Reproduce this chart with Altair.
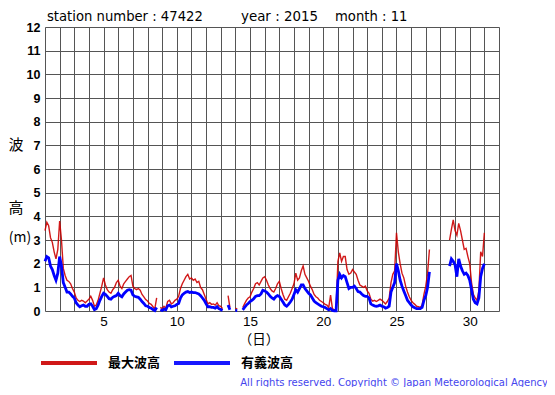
import altair as alt
import pandas as pd

# 3-hourly samples, day 1 00:00 .. day 31 00:00 (None = missing)
max_wave = [
    # day 1
    3.4, 3.75, 3.6, 3.1, 2.9, 2.5, 2.2, 2.6,
    # day 2
    3.8, 3.0, 1.8, 1.5, 1.3, 1.25, 1.15, 0.95,
    # day 3
    0.8, 0.55, 0.45, 0.4, 0.45, 0.42, 0.35, 0.42,
    # day 4
    0.5, 0.62, 0.45, 0.2, 0.25, 0.45, 0.75, 1.05,
    # day 5
    1.4, 1.1, 0.9, 0.8, 0.75, 0.9, 1.0, 1.2,
    # day 6
    1.3, 1.05, 0.95, 1.15, 1.25, 1.35, 1.45, 1.5,
    # day 7
    1.05, 0.95, 0.9, 0.95, 0.88, 0.7, 0.6, 0.48,
    # day 8
    0.42, 0.32, 0.28, 0.18, 0.1, 0.55, None, 0.15,
    # day 9
    0.1, 0.2, 0.12, 0.4, 0.45, 0.3, 0.35, 0.45,
    # day 10
    0.5, 0.62, 0.95, 1.15, 1.3, 1.45, 1.55, 1.35,
    # day 11
    1.4, 1.3, 1.35, 1.2, 1.25, 1.0, 0.9, 0.7,
    # day 12
    0.5, 0.3, 0.35, 0.28, 0.3, 0.25, 0.35, 0.22,
    # day 13
    0.2, 0.1, None, None, 0.65, 0.15, None, None,
    # day 14
    0.12, 0.08, None, None, 0.15, 0.3, 0.45, 0.55,
    # day 15
    0.6, 0.8, 0.95, 1.15, 1.2, 1.1, 1.25, 1.4,
    # day 16
    1.45, 1.3, 1.1, 0.95, 0.85, 0.8, 0.95, 1.15,
    # day 17
    1.25, 0.95, 0.7, 0.5, 0.45, 0.6, 0.75, 0.95,
    # day 18
    1.15, 1.6, 1.3, 1.4, 1.7, 1.9, 1.55, 1.4,
    # day 19
    1.25, 1.05, 0.9, 0.7, 0.6, 0.55, 0.45, 0.4,
    # day 20
    0.35, 0.28, 0.25, 0.15, 0.67, 0.1, 0.05, 0.05,
    # day 21
    2.1, 2.45, 2.1, 2.3, 2.3, 1.75, 1.55, 1.6,
    # day 22
    1.75, 1.65, 1.55, 1.3, 1.1, 1.05, 1.0, 1.05,
    # day 23
    0.85, 0.75, 0.5, 0.42, 0.45, 0.4, 0.45, 0.5,
    # day 24
    0.45, 0.38, 0.3, 0.4, 0.55, 1.2, 1.55, 1.7,
    # day 25
    3.3, 2.5, 2.0, 1.6, 1.4, 1.05, 0.8, 0.6,
    # day 26
    0.45, 0.35, 0.28, 0.2, 0.18, 0.15, 0.25, 0.7,
    # day 27
    1.05, 1.6, 2.6, None, None, None, None, None,
    # day 28
    None, None, None, None, None, 3.0, 3.45, 3.85,
    # day 29
    3.4, 3.2, 3.7, 3.4, 3.0, 2.6, 2.65, 2.3,
    # day 30
    2.0, 1.2, 0.7, 0.55, 0.45, 0.85, 2.5, 2.3,
    # day 31
    3.3,
]

sig_wave = [
    # day 1
    2.1, 2.3, 2.25, 1.9, 1.75, 1.5, 1.3, 1.6,
    # day 2
    2.3, 1.9, 1.2, 1.0, 0.8, 0.8, 0.72, 0.62,
    # day 3
    0.55, 0.35, 0.25, 0.18, 0.22, 0.25, 0.2, 0.2,
    # day 4
    0.28, 0.3, 0.2, 0.06, 0.1, 0.25, 0.45, 0.62,
    # day 5
    0.75, 0.7, 0.62, 0.52, 0.5, 0.58, 0.62, 0.65,
    # day 6
    0.75, 0.65, 0.6, 0.72, 0.8, 0.88, 0.9, 0.88,
    # day 7
    0.68, 0.62, 0.6, 0.58, 0.5, 0.4, 0.32, 0.22,
    # day 8
    0.2, 0.15, 0.12, 0.06, 0.02, 0.15, None, 0.05,
    # day 9
    0.02, 0.08, 0.05, 0.22, 0.25, 0.17, 0.2, 0.22,
    # day 10
    0.28, 0.32, 0.55, 0.68, 0.75, 0.8, 0.82, 0.78,
    # day 11
    0.8, 0.78, 0.78, 0.75, 0.72, 0.65, 0.55, 0.45,
    # day 12
    0.3, 0.18, 0.18, 0.15, 0.15, 0.12, 0.18, 0.1,
    # day 13
    0.06, 0.02, None, None, 0.25, 0.05, None, None,
    # day 14
    0.03, 0.02, None, None, 0.05, 0.15, 0.25, 0.32,
    # day 15
    0.4, 0.45, 0.52, 0.62, 0.65, 0.65, 0.72, 0.88,
    # day 16
    0.85, 0.8, 0.72, 0.62, 0.55, 0.5, 0.6, 0.65,
    # day 17
    0.62, 0.5, 0.38, 0.25, 0.2, 0.28, 0.38, 0.5,
    # day 18
    0.7, 0.9, 0.8, 0.95, 1.1, 1.1, 0.95, 0.85,
    # day 19
    0.75, 0.68, 0.55, 0.42, 0.35, 0.3, 0.25, 0.2,
    # day 20
    0.18, 0.15, 0.1, 0.05, 0.1, 0.02, 0.01, 0.01,
    # day 21
    1.3, 1.55, 1.4, 1.5, 1.45, 1.2, 0.95, 1.0,
    # day 22
    1.0, 1.05, 0.95, 0.82, 0.8, 0.72, 0.65, 0.62,
    # day 23
    0.62, 0.55, 0.3, 0.25, 0.22, 0.2, 0.22, 0.25,
    # day 24
    0.2, 0.18, 0.12, 0.15, 0.2, 0.8, 1.0, 1.2,
    # day 25
    2.0, 1.7, 1.3, 1.05, 0.85, 0.65, 0.45, 0.35,
    # day 26
    0.25, 0.18, 0.14, 0.1, 0.1, 0.1, 0.15, 0.45,
    # day 27
    0.65, 1.0, 1.65, None, None, None, None, None,
    # day 28
    None, None, None, None, None, 1.9, 2.2, 2.1,
    # day 29
    1.95, 1.45, 2.2, 1.9, 1.7, 1.55, 1.6, 1.5,
    # day 30
    1.3, 0.9, 0.5, 0.35, 0.3, 0.55, 1.45, 1.8,
    # day 31
    2.0,
]

series_names = ["最大波高", "有義波高"]
series_colors = ["#cc0000", "#0000ff"]
y_ticks = list(range(0, 13))
x_grid = list(range(1, 33))

rows = []
for name, vals in zip(series_names, [max_wave, sig_wave]):
    seg = 0
    for i, v in enumerate(vals):
        if v is None:
            seg += 1
            continue
        rows.append({"day": 1 + i / 8, "value": v, "series": name, "seg": f"{name}-{seg}"})
df = pd.DataFrame(rows)

x_enc = alt.X("day:Q", scale=alt.Scale(domain=[1, 32], nice=False, zero=False),
              axis=alt.Axis(values=x_grid, title=None, grid=True, ticks=False, domain=False,
                            labelExpr="datum.value % 5 == 0 ? datum.label : ''",
                            labelFontSize=13.5, labelPadding=3, labelColor="black",
                            labelFont="Liberation Sans", gridColor="#555", gridWidth=1,
                            gridOpacity=1))
y_enc = alt.Y("value:Q", scale=alt.Scale(domain=[0, 12], nice=False),
              axis=alt.Axis(values=y_ticks, title=None, grid=True, ticks=False, domain=False,
                            labelFontSize=12.5, labelFontWeight="bold", labelPadding=5,
                            labelColor="black", labelFont="Liberation Sans",
                            gridColor="#555", gridWidth=1, gridOpacity=1))
color_enc = alt.Color("series:N",
                      scale=alt.Scale(domain=series_names, range=series_colors),
                      legend=alt.Legend(title=None, orient="none", legendX=-6, legendY=306,
                                        direction="horizontal", symbolType="stroke",
                                        symbolSize=3136, symbolStrokeWidth=4,
                                        labelFontSize=13, labelFontWeight="bold",
                                        labelFont="Noto Sans CJK JP", labelColor="black",
                                        labelOffset=9, columnPadding=5, padding=0))

base = alt.Chart(df)
red = base.transform_filter(alt.datum.series == series_names[0]).mark_line(
    strokeWidth=1.4, opacity=0.9).encode(x=x_enc, y=y_enc, color=color_enc, detail="seg:N")
blue = base.transform_filter(alt.datum.series == series_names[1]).mark_line(
    strokeWidth=2.8).encode(x=x_enc, y=y_enc, color=color_enc, detail="seg:N")

def label(text, x, y, size, font="Liberation Sans", weight="normal", align="left",
          color="black", baseline="alphabetic"):
    return alt.Chart(pd.DataFrame({"t": [text]})).mark_text(
        fontSize=size, font=font, fontWeight=weight, align=align, color=color,
        baseline=baseline).encode(text="t:N", x=alt.value(x), y=alt.value(y))

texts = [
    label("station number : 47422", 2, -6, 13.2, font="DejaVu Sans"),
    label("year : 2015", 196, -6, 13.4, font="DejaVu Sans"),
    label("month : 11", 290, -6, 13.2, font="DejaVu Sans"),
    label("波", -29, 118, 15, font="Noto Sans CJK JP", align="center", baseline="middle"),
    label("高", -29, 181, 15, font="Noto Sans CJK JP", align="center", baseline="middle"),
    label("(m)", -25, 211, 14, font="Noto Sans CJK JP", align="center", baseline="middle"),
    label("（日）", 214, 313, 13.5, font="Noto Sans CJK JP", align="center", baseline="middle"),
    label("All rights reserved. Copyright © Japan Meteorological Agency", 503, 359, 10,
          font="DejaVu Sans", align="right", color="#4444ee"),
]

chart = alt.layer(red, blue, *texts).properties(
    width=454, height=284,
    padding={"left": 37, "top": 19, "right": 48, "bottom": 76},
    autosize=alt.AutoSizeParams(type="none"),
).configure_view(stroke="black", strokeWidth=2).configure(background="white")

chart.save("out.html", embed_options={"renderer": "svg", "actions": False})
